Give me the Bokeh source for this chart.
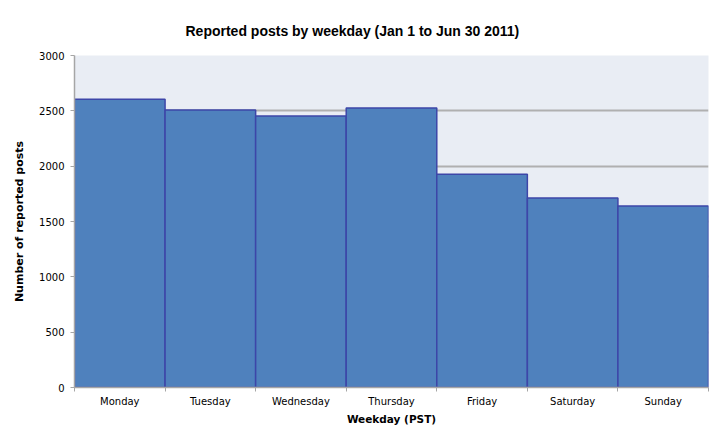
from bokeh.plotting import figure
from bokeh.models import FixedTicker, Range1d
from bokeh.embed import file_html
from bokeh.resources import INLINE

days = ["Monday", "Tuesday", "Wednesday", "Thursday", "Friday", "Saturday", "Sunday"]
posts = [2605, 2507, 2453, 2526, 1926, 1712, 1640]
y_ticks = [0, 500, 1000, 1500, 2000, 2500, 3000]

left = list(range(len(days)))
right = [i + 1 for i in left]
centers = [i + 0.5 for i in left]

p = figure(width=710, height=427, output_backend="svg", toolbar_location=None,
           x_range=Range1d(0, len(days)), y_range=Range1d(0, 3000),
           min_border_left=74, min_border_right=2, min_border_top=55, min_border_bottom=40)

p.title.text = "Reported posts by weekday (Jan 1 to Jun 30 2011)"
p.title.text_font = "Liberation Sans"
p.title.text_font_size = "14px"
p.title.text_font_style = "bold"
p.title.text_color = "black"
p.title.align = "left"
p.title.offset = 111
p.title.vertical_align = "top"
p.title.standoff = 30

p.background_fill_color = "#e9edf4"
p.border_fill_color = "white"
p.outline_line_color = None

p.quad(left=left, right=right, bottom=0, top=posts,
       fill_color="#4f81bd", line_color="#3d46a8", line_width=1.5)

p.xgrid.grid_line_color = None
p.ygrid.ticker = FixedTicker(ticks=y_ticks)
p.ygrid.grid_line_color = "#b0b0b0"
p.ygrid.grid_line_width = 2

p.yaxis.ticker = FixedTicker(ticks=y_ticks)
p.xaxis.ticker = FixedTicker(ticks=centers, minor_ticks=list(range(len(days) + 1)))
p.xaxis.major_label_overrides = {c: d for c, d in zip(centers, days)}

for ax in (p.xaxis, p.yaxis):
    ax.axis_line_color = "#a6a6a6"
    ax.axis_line_width = 1.5
    ax.major_tick_line_color = "#a6a6a6"
    ax.minor_tick_line_color = "#a6a6a6"
    ax.major_tick_in = 0
    ax.minor_tick_in = 0
    ax.major_label_text_font = "DejaVu Sans"
    ax.major_label_text_font_size = "10px"
    ax.major_label_text_color = "black"
    ax.axis_label_text_font = "DejaVu Sans"
    ax.axis_label_text_font_style = "bold"
    ax.axis_label_text_color = "black"

p.yaxis.major_tick_out = 4
p.yaxis.minor_tick_out = 0
p.yaxis.major_label_standoff = 6
p.yaxis.axis_label = "Number of reported posts"
p.yaxis.axis_label_text_font_size = "11px"
p.yaxis.axis_label_standoff = 10

p.xaxis.major_tick_out = 0
p.xaxis.minor_tick_out = 4
p.xaxis.major_label_standoff = 4
p.xaxis.axis_label = "Weekday (PST)"
p.xaxis.axis_label_text_font_size = "10.5px"
p.xaxis.axis_label_standoff = 3

open("out.html", "w").write(file_html(p, INLINE))
